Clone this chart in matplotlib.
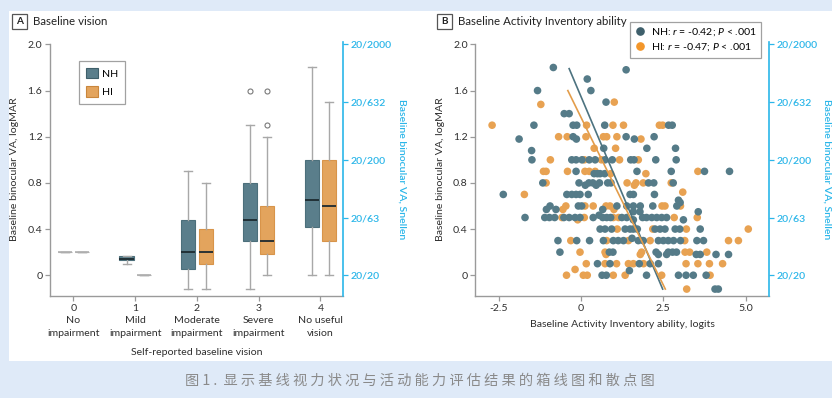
import matplotlib
matplotlib.use("Agg")
import matplotlib.pyplot as plt
from matplotlib.patches import Rectangle, Patch
from matplotlib.lines import Line2D

plt.rcParams['font.family'] = ['Lato', 'DejaVu Sans']
plt.rcParams['mathtext.fontset'] = 'custom'
plt.rcParams['mathtext.it'] = 'Lato:italic'
plt.rcParams['mathtext.rm'] = 'Lato'

# ---------------- data: panel A (box plots) ----------------
categories = ['0\nNo\nimpairment', '1\nMild\nimpairment', '2\nModerate\nimpairment',
              '3\nSevere\nimpairment', '4\nNo useful\nvision']
nh_q1 = [0.20, 0.13, 0.05, 0.30, 0.42]
nh_med = [0.20, 0.14, 0.20, 0.48, 0.65]
nh_q3 = [0.20, 0.17, 0.48, 0.80, 1.00]
nh_wlo = [0.20, 0.10, -0.12, -0.12, 0.00]
nh_whi = [0.20, 0.17, 0.90, 1.30, 1.80]
nh_fliers = [[], [], [], [1.60], []]
hi_q1 = [0.20, 0.00, 0.10, 0.18, 0.30]
hi_med = [0.20, 0.00, 0.20, 0.30, 0.60]
hi_q3 = [0.20, 0.00, 0.40, 0.60, 1.00]
hi_wlo = [0.20, 0.00, -0.12, 0.00, 0.00]
hi_whi = [0.20, 0.00, 0.80, 1.20, 1.50]
hi_fliers = [[], [], [], [1.30, 1.60], []]

snellen_logmar = [0.0, 0.5, 1.0, 1.5, 2.0]
snellen_labels = ['20/20', '20/63', '20/200', '20/632', '20/2000']

# ---------------- data: panel B (scatter) ----------------
nh_x = [-0.84, 1.37, 0.19, -1.32, 0.30, 0.76, -0.51, -0.36,
        -1.43, -0.24, -0.13, 0.72, 2.66, 2.77,
        -1.88, -0.24, -0.14, 1.37, 2.22, 1.62,
        0.69, 2.00, 2.87, -1.50,
        -1.49, -0.28, -0.15, 0.03, 0.25, 0.43, 0.73, 0.95, 1.51, 1.61, 2.27, 2.89,
        -0.15, 1.70, 2.74, 3.75, 4.51, 0.40, 0.50, 0.58, 0.72,
        -1.16, -0.06, 0.24, 0.36, 0.46, 0.56, 0.81, 0.91, 2.05, 2.21, 2.80, 0.13,
        -2.36, -0.43, -0.28, -0.15, -0.03, 0.22, 1.49, 1.59, 2.23, 2.96, 3.01,
        -0.94, -0.08, 0.02, 1.09, 1.39, 1.59, 1.80, 2.18, 2.91,
        -1.05, -0.76, 0.66, 1.59, 1.79, 3.56,
        -1.70, -1.10, -0.96, -0.80, -0.52, -0.36, -0.18, -0.03, 0.37, 0.55, 0.66,
        0.78, 0.90, 1.24, 1.39, 1.59, 1.87, 1.99, 2.15, 2.30, 2.45, 2.60, 3.11,
        0.58, 0.73, 0.93, 1.34, 1.49, 1.59, 1.71, 2.25, 2.40, 2.55, 2.86, 3.00, 3.62,
        -0.70, -0.13, 0.26, 0.68, 0.98, 1.13, 1.29, 1.55, 1.74, 1.89, 2.35, 2.50,
        2.65, 2.81, 3.02, 3.52, 3.72,
        -0.64, 0.86, 0.97, 2.28, 2.65, 2.78, 2.90, 3.50, 3.62, 4.10, 4.48, 2.35, 2.60,
        0.50, 0.88, 1.77, 2.10, 2.35, 1.47,
        0.64, 0.77, 1.99, 2.96, 3.19, 3.41, 3.80, 4.07, 4.17]
nh_y = [1.80, 1.78, 1.70, 1.60, 1.60, 1.50, 1.40, 1.40,
        1.30, 1.30, 1.30, 1.30, 1.30, 1.30,
        1.18, 1.20, 1.18, 1.20, 1.20, 1.18,
        1.10, 1.10, 1.10, 1.08,
        1.00, 1.00, 1.00, 1.00, 1.00, 1.00, 1.00, 1.00, 1.00, 1.00, 1.00, 1.00,
        0.90, 0.90, 0.90, 0.90, 0.90, 0.88, 0.88, 0.88, 0.88,
        0.80, 0.80, 0.80, 0.80, 0.78, 0.80, 0.80, 0.80, 0.80, 0.80, 0.80, 0.78,
        0.70, 0.70, 0.70, 0.70, 0.70, 0.70, 0.70, 0.70, 0.70, 0.65, 0.63,
        0.60, 0.60, 0.60, 0.60, 0.60, 0.60, 0.60, 0.60, 0.60,
        0.57, 0.57, 0.57, 0.55, 0.55, 0.55,
        0.50, 0.50, 0.50, 0.50, 0.50, 0.50, 0.50, 0.50, 0.50, 0.52, 0.50,
        0.50, 0.50, 0.50, 0.50, 0.48, 0.50, 0.50, 0.50, 0.50, 0.50, 0.50, 0.48,
        0.40, 0.40, 0.40, 0.40, 0.40, 0.40, 0.40, 0.40, 0.40, 0.40, 0.40, 0.40, 0.40,
        0.30, 0.30, 0.30, 0.30, 0.30, 0.30, 0.30, 0.32, 0.30, 0.30, 0.30, 0.30,
        0.30, 0.30, 0.30, 0.30, 0.30,
        0.20, 0.20, 0.20, 0.20, 0.20, 0.20, 0.20, 0.18, 0.18, 0.18, 0.18, 0.18, 0.18,
        0.10, 0.10, 0.10, 0.10, 0.10, 0.04,
        0.00, 0.00, 0.00, 0.00, 0.00, 0.00, 0.00, -0.12, -0.12]
hi_x = [-1.22, 1.01,
        -2.70, 0.17, 0.97, 1.29, 2.38, 2.48,
        -0.68, -0.42, 0.15, 0.68, 0.78, 1.09, 1.82,
        0.40, 1.05,
        -0.93, 0.10, 0.62, 1.17, 1.74,
        -1.14, -1.06, -0.41, 0.12, 0.25, 0.43, 3.55, 1.97, 0.90,
        -1.06, 1.40, 1.67, 1.89, 2.74, 1.62,
        -1.72, 3.09,
        -0.46, 0.12, 0.37, 0.76, 0.88, 2.46, 2.55, 3.02,
        -0.55, 1.00,
        -0.58, 0.10, 0.98, 1.14, 2.83, 3.53, -0.10,
        1.10, 2.18, 3.20, 5.08,
        -0.31, 0.78, 1.44, 2.10, 3.15, 4.48, 4.78,
        -0.03, 0.73, 1.84, 3.16, 3.30, 3.82, 0.76, 1.80,
        0.16, 0.73, 1.08, 1.44, 1.59, 1.90, 3.19, 3.55, 3.90, 4.30, -0.18,
        -0.44, 0.07, 0.19, 0.98, 1.34, 2.45, 3.92, 3.21]
hi_y = [1.48, 1.50,
        1.30, 1.30, 1.30, 1.30, 1.30, 1.30,
        1.20, 1.20, 1.20, 1.20, 1.20, 1.20, 1.18,
        1.10, 1.10,
        1.00, 1.00, 1.00, 1.00, 1.00,
        0.90, 0.90, 0.90, 0.90, 0.90, 0.90, 0.90, 0.88, 0.88,
        0.80, 0.80, 0.80, 0.80, 0.80, 0.78,
        0.70, 0.72,
        0.60, 0.60, 0.60, 0.60, 0.60, 0.60, 0.60, 0.60,
        0.57, 0.57,
        0.50, 0.50, 0.50, 0.50, 0.50, 0.50, 0.48,
        0.40, 0.40, 0.40, 0.40,
        0.30, 0.30, 0.30, 0.30, 0.30, 0.30, 0.30,
        0.20, 0.20, 0.20, 0.20, 0.20, 0.20, 0.18, 0.18,
        0.10, 0.10, 0.10, 0.10, 0.10, 0.10, 0.10, 0.10, 0.10, 0.10, 0.05,
        0.00, 0.00, 0.00, 0.00, 0.00, 0.00, 0.00, -0.12]

nh_fit_x = [-0.36, 2.48]
nh_fit_y = [1.79, -0.12]
hi_fit_x = [-0.40, 2.56]
hi_fit_y = [1.60, -0.12]

legend_a = ['NH', 'HI']
legend_b = ['NH: $r$ = -0.42; $P$ < .001', 'HI: $r$ = -0.47; $P$ < .001']
caption = '图1. 显示基线视力状况与活动能力评估结果的箱线图和散点图'

# ---------------- style ----------------
BG = '#dfeaf8'
NH_BOX = '#5a7e8b'
HI_BOX = '#e3a45d'
NH_DOT = '#557b88'
HI_DOT = '#e8a252'
NH_LEG = '#3e5f6b'
HI_LEG = '#f3962a'
CYAN = '#2bb6e9'
SPINE = '#9a9a9a'
TXT = '#2f2f2f'
W, H = 832, 398


def fs(px):
    return px * 0.72


def fx(x):
    return x / W


def fy(y):
    return 1 - y / H


fig = plt.figure(figsize=(W / 100, H / 100), dpi=100, facecolor=BG)
fig.patches.append(Rectangle((fx(9), fy(361)), fx(W) - fx(9), fy(11) - fy(361),
                             transform=fig.transFigure, facecolor='white',
                             edgecolor='none', zorder=-10))

YLIM = (-0.18, 2.02)
AX_TOP, AX_BOT = 42.1, 296


def style_axes(ax, left_px, right_px):
    ax.set_ylim(*YLIM)
    for s in ['top', 'right']:
        ax.spines[s].set_visible(False)
    for s in ['left', 'bottom']:
        ax.spines[s].set_color(SPINE)
        ax.spines[s].set_linewidth(1.0)
    ax.spines['left'].set_bounds(YLIM[0], 2.0)
    ax.set_yticks([0, 0.4, 0.8, 1.2, 1.6, 2.0])
    ax.set_yticklabels(['0', '0.4', '0.8', '1.2', '1.6', '2.0'])
    ax.tick_params(axis='both', colors=SPINE, labelcolor=TXT, labelsize=fs(10.5),
                   length=3.5, width=0.9, pad=2)
    ax.set_ylabel('Baseline binocular VA, logMAR', fontsize=fs(10.5), color=TXT)
    axw = right_px - left_px
    ax.yaxis.set_label_coords(-35 / axw, 0.5)
    ax.yaxis.label.set_va('center')
    axr = ax.twinx()
    axr.set_ylim(*YLIM)
    for s in ['top', 'left', 'bottom']:
        axr.spines[s].set_visible(False)
    axr.spines['right'].set_color(CYAN)
    axr.spines['right'].set_linewidth(1.2)
    axr.set_yticks(snellen_logmar)
    axr.set_yticklabels(snellen_labels)
    axr.tick_params(axis='y', colors=CYAN, labelcolor=CYAN, labelsize=fs(10.5),
                    length=3.5, width=0.9, pad=2)
    for t in axr.get_yticklabels():
        t.set_fontweight('semibold')
    axr.set_ylabel('Baseline binocular VA, Snellen', fontsize=fs(10.5), color=CYAN,
                   rotation=270, fontweight='semibold')
    axr.yaxis.set_label_coords(1 + 58.4 / axw, 0.5)
    axr.yaxis.label.set_va('center')
    return axr


def add_axes(left_px, right_px):
    return fig.add_axes([fx(left_px), fy(AX_BOT), (right_px - left_px) / W,
                         (AX_BOT - AX_TOP) / H])


# ---------------- panel A ----------------
axA = add_axes(50, 343.3)
axA.set_facecolor('none')


def stats_for(q1, med, q3, lo, hi, fl):
    return [dict(q1=a, med=b, q3=c, whislo=d, whishi=e, fliers=f)
            for a, b, c, d, e, f in zip(q1, med, q3, lo, hi, fl)]


for st, off, col, edge in [
        (stats_for(nh_q1, nh_med, nh_q3, nh_wlo, nh_whi, nh_fliers), -0.14, NH_BOX, '#4c6f7b'),
        (stats_for(hi_q1, hi_med, hi_q3, hi_wlo, hi_whi, hi_fliers), 0.14, HI_BOX, '#d8944a')]:
    pos = [i + off for i in range(len(st))]
    art = axA.bxp(st, positions=pos, widths=0.23, patch_artist=True, capwidths=0.13,
                  manage_ticks=False,
                  boxprops=dict(facecolor=col, edgecolor=edge, linewidth=0.8),
                  medianprops=dict(color='#1d2a30', linewidth=1.3),
                  whiskerprops=dict(color='#a8a8a8', linewidth=1.0),
                  capprops=dict(color='#a8a8a8', linewidth=1.0),
                  flierprops=dict(marker='o', markersize=3.6, markerfacecolor='white',
                                  markeredgecolor='#7a7a7a', markeredgewidth=0.8))
    # degenerate boxes (all values equal) drawn as a single gray line
    for i, s in enumerate(st):
        if s['q1'] == s['q3'] == s['whislo'] == s['whishi']:
            art['medians'][i].set_color('#b0b0b0')
            art['medians'][i].set_linewidth(1.2)
            art['boxes'][i].set_edgecolor('#b0b0b0')

axA.set_xlim(-0.38, 4.37)
style_axes(axA, 50, 343.3)
axA.set_xticks(range(len(categories)))
axA.set_xticklabels(categories, linespacing=1.55)
axA.set_xlabel('Self-reported baseline vision', fontsize=fs(10.5), color=TXT)
axA.xaxis.set_label_coords(0.5, -(352.7 - AX_BOT) / (AX_BOT - AX_TOP))
axA.xaxis.label.set_va('center')

legA = axA.legend(handles=[Patch(facecolor=NH_BOX, edgecolor='#3f5f6a', linewidth=0.8),
                           Patch(facecolor=HI_BOX, edgecolor='#c9863c', linewidth=0.8)],
                  labels=legend_a, loc='upper left', bbox_to_anchor=(fx(78.7), fy(61)),
                  bbox_transform=fig.transFigure, borderaxespad=0, frameon=True,
                  fancybox=False, edgecolor='#8a8a8a', fontsize=fs(10.5),
                  handlelength=1.15, handleheight=1.15, labelspacing=0.75,
                  handletextpad=0.4, borderpad=0.65)
legA.get_frame().set_linewidth(0.9)

# ---------------- panel B ----------------
axB = add_axes(475.3, 768.7)
axB.set_facecolor('none')
axB.set_xlim(-3.21, 5.7)
style_axes(axB, 475.3, 768.7)
axB.set_xticks([-2.5, 0, 2.5, 5.0])
axB.set_xticklabels(['-2.5', '0', '2.5', '5.0'])
axB.set_xlabel('Baseline Activity Inventory ability, logits', fontsize=fs(10.5), color=TXT)
axB.xaxis.set_label_coords(0.5, -(324.3 - AX_BOT) / (AX_BOT - AX_TOP))
axB.xaxis.label.set_va('center')

axB.scatter(hi_x, hi_y, s=30, color=HI_DOT, edgecolors='none', zorder=2)
axB.scatter(nh_x, nh_y, s=30, color=NH_DOT, edgecolors='none', zorder=3)
axB.plot(nh_fit_x, nh_fit_y, color='#4d7380', linewidth=1.2, zorder=4)
axB.plot(hi_fit_x, hi_fit_y, color='#e39d4b', linewidth=1.2, zorder=4)

legB = axB.legend(handles=[Line2D([], [], linestyle='none', marker='o', markersize=5.2,
                                  color=NH_LEG),
                           Line2D([], [], linestyle='none', marker='o', markersize=5.2,
                                  color=HI_LEG)],
                  labels=legend_b, loc='upper left', bbox_to_anchor=(fx(630.3), fy(21.7)),
                  bbox_transform=fig.transFigure, borderaxespad=0, frameon=True,
                  fancybox=False, edgecolor='#8a8a8a', fontsize=fs(10.5),
                  handlelength=1.0, labelspacing=0.3, handletextpad=0.5, borderpad=0.45)
legB.get_frame().set_linewidth(0.9)

# ---------------- panel headers ----------------
for bx, title_x, letter, title in [(12, 33, 'A', 'Baseline vision'),
                                    (437, 458.3, 'B', 'Baseline Activity Inventory ability')]:
    fig.patches.append(Rectangle((fx(bx), fy(28.7)), 14.7 / W, 14.7 / H,
                                 transform=fig.transFigure, facecolor='white',
                                 edgecolor='#555555', linewidth=0.9))
    fig.text(fx(bx + 7.35), fy(21.3), letter, ha='center', va='center',
             fontsize=fs(10), fontweight='bold', color='#222222')
    fig.text(fx(title_x), fy(21.3), title, ha='left', va='center',
             fontsize=fs(11.5), color='#222222')

# ---------------- caption ----------------
fig.text(fx(420), fy(380.5), ' '.join(caption.replace(' ', '')).replace('. ', '.  '),
         ha='center', va='center', fontsize=fs(14.2), color='#8a8a8a',
         family=['Noto Sans CJK SC', 'DejaVu Sans'])

fig.savefig('out.png', dpi=100, facecolor=BG)
